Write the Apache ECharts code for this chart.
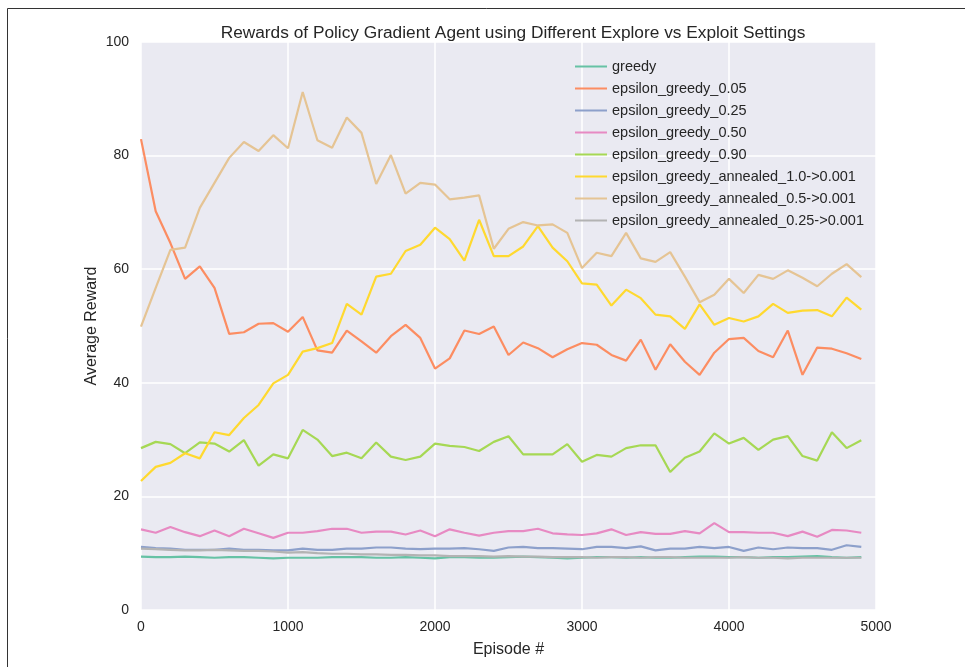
<!DOCTYPE html>
<html>
<head>
<meta charset="utf-8">
<script src="https://cdn.jsdelivr.net/npm/echarts@6/dist/echarts.min.js"></script>
<style>
html,body{margin:0;padding:0;background:#fff;}
#main{width:965px;height:667px;}
</style>
</head>
<body>
<div id="main"></div>
<script>
var episodes = [0,100,200,300,400,500,600,700,800,900,1000,1100,1200,1300,1400,1500,1600,1700,1800,1900,
  2000,2100,2200,2300,2400,2500,2600,2700,2800,2900,3000,3100,3200,3300,3400,3500,3600,3700,3800,3900,
  4000,4100,4200,4300,4400,4500,4600,4700,4800,4900];

var names = ['greedy','epsilon_greedy_0.05','epsilon_greedy_0.25','epsilon_greedy_0.50','epsilon_greedy_0.90',
  'epsilon_greedy_annealed_1.0->0.001','epsilon_greedy_annealed_0.5->0.001','epsilon_greedy_annealed_0.25->0.001'];

var colors = ['#66c2a5','#fc8d62','#8da0cb','#e78ac3','#a6d854','#ffd92f','#e5c494','#b3b3b3'];

var greedy = [9.4,9.3,9.3,9.4,9.3,9.2,9.3,9.3,9.2,9.1,9.2,9.2,9.2,9.3,9.3,9.3,9.2,9.2,9.3,9.2,
  9.1,9.3,9.3,9.2,9.2,9.3,9.4,9.3,9.2,9.1,9.2,9.3,9.3,9.2,9.3,9.2,9.2,9.3,9.4,9.4,
  9.3,9.3,9.2,9.3,9.3,9.4,9.5,9.3,9.2,9.3];
var eps005 = [82.9,70.2,64.6,58.3,60.5,56.7,48.6,48.9,50.4,50.5,49.0,51.6,45.7,45.3,49.2,47.3,45.3,48.2,50.2,47.9,
  42.5,44.3,49.2,48.6,49.9,44.9,47.1,46.1,44.5,45.9,47.0,46.7,44.9,43.9,47.6,42.3,46.8,43.7,41.4,45.3,
  47.7,47.9,45.6,44.5,49.2,41.4,46.2,46.0,45.2,44.2];
var eps025 = [11.1,10.9,10.8,10.6,10.6,10.6,10.8,10.6,10.6,10.5,10.5,10.8,10.6,10.6,10.8,10.8,11.0,11.0,10.8,10.7,
  10.8,10.8,10.9,10.7,10.4,11.0,11.1,10.9,10.9,10.8,10.7,11.1,11.1,10.9,11.2,10.5,10.8,10.8,11.1,10.9,
  11.1,10.4,11.0,10.7,11.0,10.9,10.9,10.6,11.4,11.1];
var eps050 = [14.2,13.6,14.6,13.7,13.0,14.0,13.0,14.3,13.5,12.7,13.6,13.6,13.9,14.3,14.3,13.6,13.8,13.8,13.3,14.0,
  13.0,14.2,13.6,13.1,13.6,13.9,13.9,14.3,13.5,13.3,13.2,13.5,14.2,13.2,13.7,13.4,13.4,13.9,13.5,15.3,
  13.7,13.7,13.6,13.6,13.0,13.8,12.9,14.1,14.0,13.6];
var eps090 = [28.5,29.6,29.2,27.6,29.5,29.3,27.9,29.9,25.4,27.4,26.7,31.7,30.0,27.1,27.7,26.7,29.5,27.0,26.4,27.0,
  29.3,28.9,28.7,28.0,29.6,30.6,27.4,27.4,27.4,29.2,26.1,27.3,27.0,28.5,29.0,29.0,24.3,26.8,27.9,31.1,
  29.3,30.3,28.2,30.0,30.6,27.1,26.3,31.3,28.5,29.9];
var ann10 = [22.7,25.2,25.9,27.6,26.7,31.3,30.8,33.8,36.1,39.9,41.4,45.5,46.1,47.0,53.9,52.0,58.7,59.2,63.2,64.3,
  67.3,65.3,61.5,68.7,62.3,62.3,64.0,67.6,63.8,61.4,57.5,57.3,53.6,56.4,54.9,52.0,51.7,49.5,53.8,50.2,
  51.4,50.8,51.7,53.9,52.3,52.7,52.8,51.7,55.0,52.9];
var ann05 = [49.9,56.7,63.4,63.8,70.8,75.2,79.6,82.4,80.8,83.6,81.3,91.2,82.7,81.4,86.7,84.0,75.0,80.1,73.3,75.2,
  74.9,72.3,72.6,73.0,63.6,67.1,68.3,67.7,67.9,66.4,60.2,62.9,62.3,66.4,61.9,61.3,63.0,58.7,54.2,55.5,
  58.3,55.8,59.0,58.3,59.8,58.5,57.0,59.2,60.9,58.6];
var ann025 = [10.8,10.7,10.6,10.5,10.5,10.6,10.5,10.4,10.4,10.3,10.1,10.2,10.0,9.9,9.9,9.8,9.8,9.7,9.7,9.6,
  9.6,9.5,9.5,9.5,9.4,9.5,9.4,9.4,9.3,9.3,9.3,9.2,9.3,9.3,9.2,9.3,9.3,9.2,9.2,9.2,
  9.2,9.3,9.2,9.2,9.1,9.2,9.2,9.2,9.2,9.2];

var yTicks = [0,20,40,60,80,100];

var allValues = [greedy, eps005, eps025, eps050, eps090, ann10, ann05, ann025];

var chart = echarts.init(document.getElementById('main'));

var series = allValues.map(function(vals, k){
  return {
    name: names[k],
    type: 'line',
    symbol: 'none',
    data: vals.map(function(v, i){ return [episodes[i], v]; }),
    lineStyle: {width: 2.2, color: colors[k]},
    itemStyle: {color: colors[k]},
    silent: true
  };
});

chart.setOption({
  animation: false,
  backgroundColor: '#fff',
  textStyle: {fontFamily: 'Liberation Sans, Arial, sans-serif'},
  title: {
    text: 'Rewards of Policy Gradient Agent using Different Explore vs Exploit Settings',
    left: 508, top: 20, textAlign: 'center',
    textStyle: {fontSize: 17.3, fontWeight: 'normal', color: '#262626'}
  },
  graphic: [{
    type: 'rect', z: 100, silent: true,
    shape: {x: 7.5, y: 8.5, width: 1000, height: 700},
    style: {fill: 'none', stroke: '#333', lineWidth: 1}
  }],
  legend: {
    orient: 'vertical',
    left: 570, top: 54,
    icon: 'rect',
    itemWidth: 32, itemHeight: 2, itemGap: 7,
    textStyle: {fontSize: 14.5, color: '#262626', padding: [0, 0, 0, 0]},
    data: names
  },
  grid: {left: 141, right: 89, top: 42, bottom: 57, show: true, backgroundColor: '#eaeaf2', borderWidth: 0},
  xAxis: {
    type: 'value', min: 0, max: 5000, interval: 1000,
    name: 'Episode #', nameLocation: 'middle', nameGap: 32, nameMoveOverlap: false,
    nameTextStyle: {fontSize: 16, color: '#262626'},
    axisLine: {show: false}, axisTick: {show: false},
    axisLabel: {fontSize: 14, color: '#262626', margin: 10, formatter: function(v){ return String(v); }},
    splitLine: {show: true, lineStyle: {color: '#fff', width: 1.5}}
  },
  yAxis: {
    type: 'value', min: yTicks[0], max: yTicks[yTicks.length - 1], interval: 20,
    name: 'Average Reward', nameLocation: 'middle', nameGap: 41, nameMoveOverlap: false,
    nameTextStyle: {fontSize: 16, color: '#262626'},
    axisLine: {show: false}, axisTick: {show: false},
    axisLabel: {fontSize: 14, color: '#262626', margin: 12},
    splitLine: {show: true, lineStyle: {color: '#fff', width: 1.5}}
  },
  series: series
});
</script>
</body>
</html>
